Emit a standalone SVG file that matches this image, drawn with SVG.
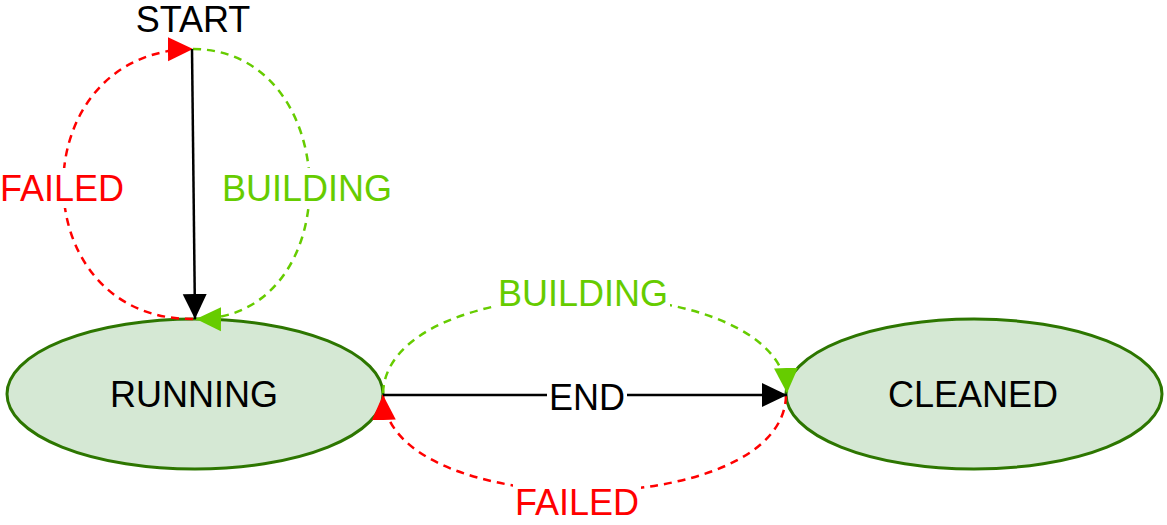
<svg xmlns="http://www.w3.org/2000/svg" width="1167" height="525" viewBox="0 0 1167 525">
<style>
text{font-family:"Liberation Sans",Arial,Helvetica,sans-serif;font-size:36px;text-anchor:middle}
.node{fill:#d5e8d4;stroke:#2d7600;stroke-width:3}
.red{fill:none;stroke:#ff0000;stroke-width:2.5;stroke-dasharray:8 6}
.green{fill:none;stroke:#66cc00;stroke-width:2.5;stroke-dasharray:8 6}
.black{fill:none;stroke:#000;stroke-width:2.5}
.bg{fill:#fff}
</style>
<defs>
<marker id="ab" markerUnits="userSpaceOnUse" markerWidth="26" markerHeight="26" refX="25" refY="13" orient="auto"><path d="M0,1 L25,13 L0,25 Z" fill="#000"/></marker>
<marker id="ar" markerUnits="userSpaceOnUse" markerWidth="26" markerHeight="26" refX="25" refY="13" orient="auto"><path d="M0,1 L25,13 L0,25 Z" fill="#ff0000"/></marker>
<marker id="ag" markerUnits="userSpaceOnUse" markerWidth="26" markerHeight="26" refX="25" refY="13" orient="auto"><path d="M0,1 L25,13 L0,25 Z" fill="#66cc00"/></marker>
</defs>
<g id="node-running"><ellipse class="node" cx="195" cy="394" rx="188" ry="75"/><text x="194" y="407" fill="#000">RUNNING</text></g>
<g id="node-cleaned"><ellipse class="node" cx="974" cy="394" rx="188" ry="75"/><text x="973" y="407" fill="#000">CLEANED</text></g>
<g id="node-start"><text x="193" y="32" fill="#000">START</text></g>
<g id="connectors">
<path class="red" d="M193,319 C20,320 20,50 193,49" marker-end="url(#ar)"/>
<path class="green" d="M193,49 C346,50 350,320 196,319" marker-end="url(#ag)"/>
<path class="black" d="M192,49 L195,319" marker-end="url(#ab)"/>
<path class="green" d="M383,393 C388,265 782,265 787,393" marker-end="url(#ag)"/>
<path class="red" d="M786,396 C782,523 387,523 383,395" marker-end="url(#ar)"/>
<path class="black" d="M383,395 L787,395" marker-end="url(#ab)"/>
<rect class="bg" x="0" y="168" width="125" height="40"/>
<text x="62" y="201" fill="#ff0000">FAILED</text>
<rect class="bg" x="222" y="168" width="170" height="40"/>
<text x="307" y="201" fill="#66cc00">BUILDING</text>
<rect class="bg" x="496" y="273" width="174" height="40"/>
<text x="583" y="306" fill="#66cc00">BUILDING</text>
<rect class="bg" x="547" y="378" width="80" height="36"/>
<text x="587" y="410" fill="#000">END</text>
<rect class="bg" x="513" y="483" width="128" height="40"/>
<text x="577" y="515" fill="#ff0000">FAILED</text>
</g>
</svg>
